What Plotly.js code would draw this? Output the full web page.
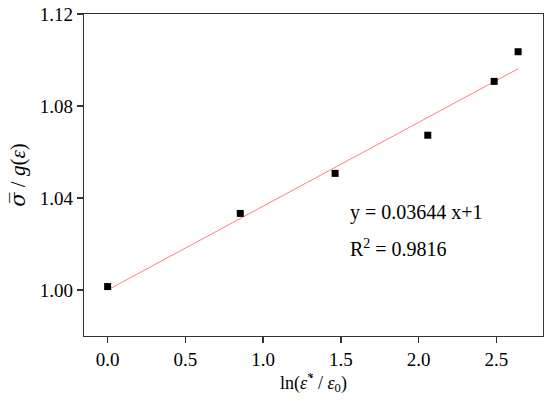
<!DOCTYPE html>
<html>
<head>
<meta charset="utf-8">
<script src="https://cdn.plot.ly/plotly-3.0.1.min.js"></script>
<style>html,body{margin:0;padding:0;background:#fff;}#chart{width:550px;height:401px;}</style>
</head>
<body>
<div id="chart"></div>
<script>
var strainRateLn = [0.0, 0.853, 1.463, 2.059, 2.486, 2.64];
var stressRatio = [1.0015, 1.0333, 1.0507, 1.0673, 1.0907, 1.1036];
var fitX = [0.0, 2.64];
var fitY = [1.0, 1.0962];
var xTicks = [0, 0.5, 1.0, 1.5, 2.0, 2.5];
var xTickLabels = ['0.0', '0.5', '1.0', '1.5', '2.0', '2.5'];
var yTicks = [1.00, 1.04, 1.08, 1.12];
var yTickLabels = ['1.00', '1.04', '1.08', '1.12'];
var eqText = 'y = 0.03644 x+1';
var r2Text = 'R<sup>2</sup> = 0.9816';

var font = '"Liberation Serif", serif';
var data = [
  {x: fitX, y: fitY, mode: 'lines', type: 'scatter', line: {color: '#ff8080', width: 1}, hoverinfo: 'skip'},
  {x: strainRateLn, y: stressRatio, mode: 'markers', type: 'scatter', marker: {symbol: 'square', size: 7, color: '#000'}}
];
var layout = {
  width: 550, height: 401,
  margin: {l: 84, r: 7, t: 14, b: 65},
  showlegend: false,
  paper_bgcolor: '#fff', plot_bgcolor: '#fff',
  font: {family: font, size: 18, color: '#000'},
  xaxis: {
    range: [-0.152, 2.8], tickvals: xTicks, ticktext: xTickLabels,
    ticks: 'outside', ticklen: 6, tickwidth: 1.3, tickcolor: '#333',
    showline: true, mirror: true, linecolor: '#333', linewidth: 1.3,
    showgrid: false, zeroline: false,
    tickfont: {family: font, size: 19, color: '#000'},
    title: {text: 'ln(<i>ε\u0307</i><sup>*</sup> / <i>ε</i><sub>0</sub>)', font: {family: font, size: 18, color: '#000'}, standoff: 5}
  },
  yaxis: {
    range: [0.98, 1.12], tickvals: yTicks, ticktext: yTickLabels,
    ticks: 'outside', ticklen: 6, tickwidth: 1.3, tickcolor: '#333',
    showline: true, mirror: true, linecolor: '#333', linewidth: 1.3,
    showgrid: false, zeroline: false,
    tickfont: {family: font, size: 19, color: '#000'},
    title: {text: '\u00a0\u00a0<span style="font-family:\'DejaVu Serif\'"><i>σ\u0305</i></span>\u00a0/\u00a0<i>g</i>(<i>ε</i>)', font: {family: font, size: 21, color: '#000'}, standoff: 8}
  },
  annotations: [
    {x: 1.546, y: 1.0339, xref: 'x', yref: 'y', xanchor: 'left', yanchor: 'middle', text: eqText, showarrow: false, font: {family: font, size: 20, color: '#000'}},
    {x: 1.546, y: 1.0183, xref: 'x', yref: 'y', xanchor: 'left', yanchor: 'middle', text: r2Text, showarrow: false, font: {family: font, size: 20, color: '#000'}}
  ]
};
Plotly.newPlot('chart', data, layout, {displayModeBar: false, staticPlot: true});
</script>
</body>
</html>
